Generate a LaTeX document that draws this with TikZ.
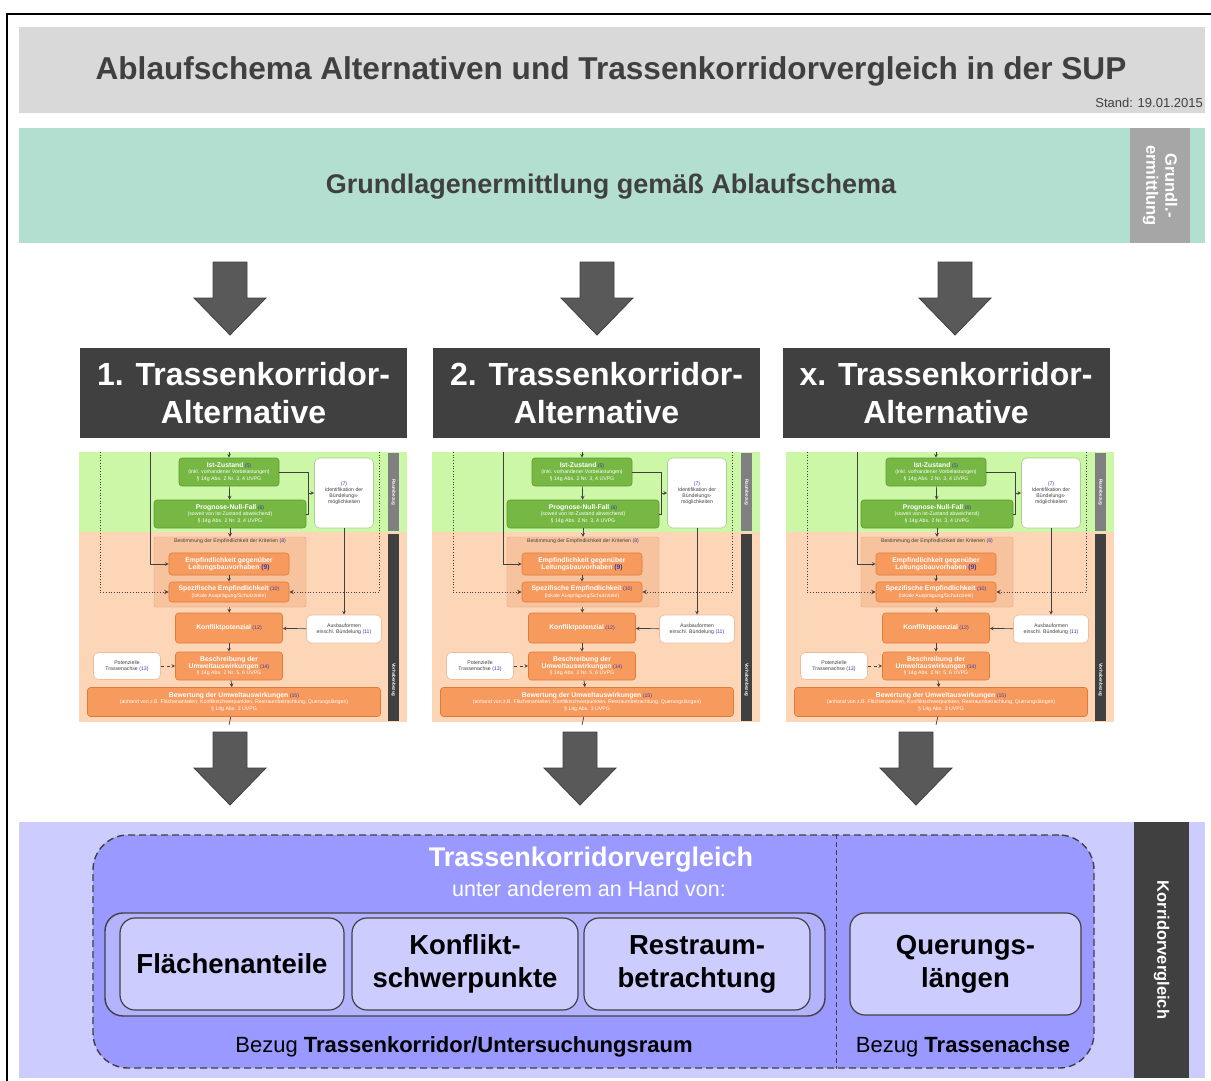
\documentclass[tikz,border=0pt]{standalone}
\usepackage{fontspec}
\setmainfont{Liberation Sans}
\usetikzlibrary{positioning}

\definecolor{dunkel}{HTML}{404040}
\definecolor{titelgrau}{HTML}{D9D9D9}
\definecolor{mint}{HTML}{B3DFD0}
\definecolor{mittelgrau}{HTML}{A6A6A6}
\definecolor{pfeilgrau}{HTML}{595959}
\definecolor{lilahell}{HTML}{CCCCFF}
\definecolor{lilamittel}{HTML}{9999FF}
\definecolor{lilagruppe}{HTML}{B3B3FF}
\definecolor{raumgruen}{HTML}{CCF7A6}
\definecolor{vorhorange}{HTML}{FCD6B6}
\definecolor{boxgruen}{HTML}{76B843}
\definecolor{randgruen}{HTML}{5C9A30}
\definecolor{boxorange}{HTML}{F79A5E}
\definecolor{randorange}{HTML}{E07A3A}
\definecolor{behaelterorange}{HTML}{F7C39E}
\definecolor{nrblau}{HTML}{3B3BA8}

\newcommand{\klein}{\fontsize{5.2}{6.2}\selectfont}
\newcommand{\titelklein}{\fontsize{6.8}{7.6}\selectfont\bfseries}
\newcommand{\nr}[1]{\textcolor{nrblau}{#1}}

\tikzset{
  gruenbox/.style={draw=randgruen, fill=boxgruen, rounded corners=3pt, text=white, font=\klein, align=center, inner sep=0pt, line width=0.6pt},
  orangebox/.style={draw=randorange, fill=boxorange, rounded corners=3pt, text=white, font=\klein, align=center, inner sep=0pt, line width=0.6pt},
  weissbox/.style={draw=#1, fill=white, rounded corners=5pt, text=dunkel, font=\klein, align=center, inner sep=0pt, line width=0.6pt},
  verb/.style={->, >=stealth, line width=0.7pt, draw=dunkel},
  seitenschrift/.style={text=white, font=\fontsize{4.5}{5}\selectfont\bfseries, rotate=-90, inner sep=0pt}
}

% kleines Ablaufschema je Alternative
\newcommand{\miniablauf}{%
  \fill[raumgruen] (0,0) rectangle (328,80);
  \fill[vorhorange] (0,80) rectangle (328,270);
  \fill[gray] (309,1) rectangle (320,79);
  \fill[dunkel] (309,82) rectangle (320,269);
  \node[seitenschrift] (sr) at (314.5,40) {Raumbezug};
  \node[seitenschrift] (sv) at (314.5,228) {Vorhabenbezug};
  % Boxen
  \node[gruenbox, minimum width=100pt, minimum height=28pt] (ist) at (150,20)
    {{\titelklein Ist-Zustand} \nr{(5)}\\(inkl. vorhandener Vorbelastungen)\\§ 14g Abs. 2 Nr. 3, 4 UVPG};
  \node[gruenbox, minimum width=152pt, minimum height=28pt] (prog) at (151,62)
    {{\titelklein Prognose-Null-Fall} \nr{(6)}\\(soweit von Ist-Zustand abweichend)\\§ 14g Abs. 2 Nr. 3, 4 UVPG};
  \node[weissbox=randgruen!50, minimum width=59pt, minimum height=70pt] (bund) at (265,41)
    {\nr{(7)}\\Identifikation der\\Bündelungs-\\möglichkeiten};
  \node[draw=randorange!70, fill=behaelterorange, rounded corners=2pt, minimum width=152pt, minimum height=70pt] (best) at (151,120) {};
  \node[font=\klein, text=dunkel, anchor=north, inner sep=2pt] (bestlbl) at (best.north) {Bestimmung der Empfindlichkeit der Kriterien \nr{(8)}};
  \node[orangebox, minimum width=120pt, minimum height=22pt] (empf) at (150,112)
    {\titelklein Empfindlichkeit gegenüber\\\titelklein Leitungsbauvorhaben \nr{(9)}};
  \node[orangebox, minimum width=120pt, minimum height=20pt] (spez) at (150,140)
    {{\titelklein Spezifische Empfindlichkeit} \nr{(10)}\\(lokale Ausprägung/Schutzziele)};
  \node[orangebox, minimum width=107pt, minimum height=30pt] (konf) at (150,176)
    {{\titelklein Konfliktpotenzial} \nr{(12)}};
  \node[weissbox=randorange!50, minimum width=75pt, minimum height=28pt] (ausb) at (265,177)
    {Ausbauformen\\einschl. Bündelung \nr{(11)}};
  \node[orangebox, minimum width=107pt, minimum height=28pt] (besch) at (150,214)
    {\titelklein Beschreibung der\\{\titelklein Umweltauswirkungen} \nr{(14)}\\§ 14g Abs. 2 Nr. 5, 6 UVPG};
  \node[weissbox=randorange!50, minimum width=67pt, minimum height=27pt] (pot) at (48,214)
    {Potenzielle\\Trassenachse \nr{(13)}};
  \node[orangebox, minimum width=293pt, minimum height=29pt] (bew) at (155,250)
    {{\titelklein Bewertung der Umweltauswirkungen} \nr{(15)}\\(anhand von z.B. Flächenanteilen, Konfliktschwerpunkten, Restraumbetrachtung, Querungslängen)\\§ 14g Abs. 3 UVPG};
  % Verbindungen
  \coordinate (oben) at (150,0);
  \coordinate (unten) at (150,273);
  \coordinate (jn) at (229,41);
  \draw[verb] (oben) -- (ist);
  \draw[verb] (ist) -- (prog);
  \draw[verb] (prog) -- (best);
  \draw[verb] (empf) -- (spez);
  \draw[verb] (best) -- (konf);
  \draw[verb] (konf) -- (besch);
  \draw[verb] (besch) -- (bew);
  \draw[line width=0.7pt, draw=dunkel] (bew) -- (unten);
  \draw[verb] (71,0) |- (empf.west);
  \draw[verb, dotted, line width=1pt] (21,0) |- (spez.west);
  \draw[verb, dotted, line width=1pt] (300,0) |- (spez.east);
  \draw[line width=0.7pt, draw=dunkel] (ist.east) -| (jn);
  \draw[line width=0.7pt, draw=dunkel] (prog.east) -| (jn);
  \draw[verb] (jn) -- (bund.west);
  \draw[verb] (bund.south) -- (ausb.north);
  \draw[verb] (ausb) -- (konf);
  \draw[verb, dashed] (pot) -- (besch);
}

\begin{document}
\begin{tikzpicture}[x=1pt, y=-1pt,
  kopf/.style={fill=dunkel, text=white, font=\bfseries\fontsize{32}{38}\selectfont, align=center, minimum width=327pt, minimum height=90pt, inner sep=0pt},
  leiste/.style={fill=#1, text=white, font=\bfseries\fontsize{16.5}{19}\selectfont, align=center, inner sep=0pt, rotate=-90},
  pfeil/.style={fill=pfeilgrau, draw=dunkel, line width=0.8pt},
  kasten/.style={draw=dunkel, fill=lilahell, rounded corners=15pt, line width=1.2pt, font=\bfseries\fontsize{27.5}{33}\selectfont, align=center, inner sep=0pt, minimum height=92pt}]
\useasboundingbox (0,0) rectangle (1211,1081);
\draw[line width=1.3pt] (7,14) rectangle (1230,1100); % Rahmen

% Titel
\fill[titelgrau] (19,27) rectangle (1205,113);
\node[font=\bfseries\fontsize{31.6}{36}\selectfont, text=dunkel] (titel) at (611,71) {Ablaufschema Alternativen und Trassenkorridorvergleich in der SUP};
\node[font=\fontsize{13}{15}\selectfont, text=dunkel, anchor=south east, inner sep=0pt] (stand) at (1203,108) {Stand: 19.01.2015};

% Grundlagenermittlung
\fill[mint] (19,128) rectangle (1205,243);
\node[font=\bfseries\fontsize{27}{32}\selectfont, text=dunkel] (grund) at (611,187) {Grundlagenermittlung gemäß Ablaufschema};
\node[leiste=mittelgrau, minimum width=115pt, minimum height=60pt] (grundl) at (1160,185.5) {Grundl.-\\ermittlung};

% Pfeile oben
\foreach \x in {230,597,955}
  \draw[pfeil] ({\x-17},262) -- ({\x+17},262) -- ({\x+17},298) -- ({\x+36},298) -- (\x,335) -- ({\x-36},298) -- ({\x-17},298) -- cycle;

% Alternativen
\node[kopf] (alt1) at (243.5,393) {1. Trassenkorridor-\\Alternative};
\node[kopf] (alt2) at (596.5,393) {2. Trassenkorridor-\\Alternative};
\node[kopf] (altx) at (946,393) {x. Trassenkorridor-\\Alternative};

\foreach \i/\xo in {1/79,2/432,3/786} {
  \begin{scope}[shift={(\xo,452)}, name prefix=t\i-]
    \miniablauf
  \end{scope}
}

% Pfeile unten
\foreach \x in {230,580,916}
  \draw[pfeil] ({\x-17},732) -- ({\x+17},732) -- ({\x+17},768) -- ({\x+36},768) -- (\x,805) -- ({\x-36},768) -- ({\x-17},768) -- cycle;

% Korridorvergleich
\fill[lilahell] (19,822) rectangle (1205,1078);
\node[leiste=dunkel, minimum width=256pt, minimum height=55pt] (korr) at (1161.5,950) {Korridorvergleich};
\node[draw=dunkel, fill=lilamittel, dash pattern=on 7pt off 4pt, line width=1.4pt, rounded corners=35pt, minimum width=1001pt, minimum height=233pt, inner sep=0pt] (vgl) at (593.5,951.5) {};
\coordinate (trenn) at (836,0);
\draw[dunkel, dash pattern=on 5pt off 3pt, line width=0.9pt] (trenn |- vgl.north) -- (trenn |- vgl.south);
\node[font=\bfseries\fontsize{27}{32}\selectfont, text=white] (vgltitel) at (591,860) {Trassenkorridorvergleich};
\node[font=\fontsize{21.5}{25}\selectfont, text=white] (vglsub) at (589,889) {unter anderem an Hand von:};
\node[draw=dunkel, fill=lilagruppe, rounded corners=18pt, line width=1.4pt, minimum width=720pt, minimum height=103pt, inner sep=0pt] (grp) at (465,964.5) {};
\node[kasten, minimum width=224pt] (flaeche) at (232,964) {Flächenanteile};
\node[kasten, minimum width=226pt] (konflikt) at (465,964) {Konflikt-\\schwerpunkte};
\node[kasten, minimum width=226pt] (restraum) at (697,964) {Restraum-\\betrachtung};
\node[kasten, minimum width=231pt, minimum height=102pt] (querung) at (965.5,964) {Querungs-\\längen};
\node[font=\fontsize{22}{26}\selectfont, text=black] (bezug1) at (464,1047) {Bezug \textbf{Trassenkorridor/Untersuchungsraum}};
\node[font=\fontsize{22}{26}\selectfont, text=black] (bezug2) at (963,1047) {Bezug \textbf{Trassenachse}};
\end{tikzpicture}
\end{document}
